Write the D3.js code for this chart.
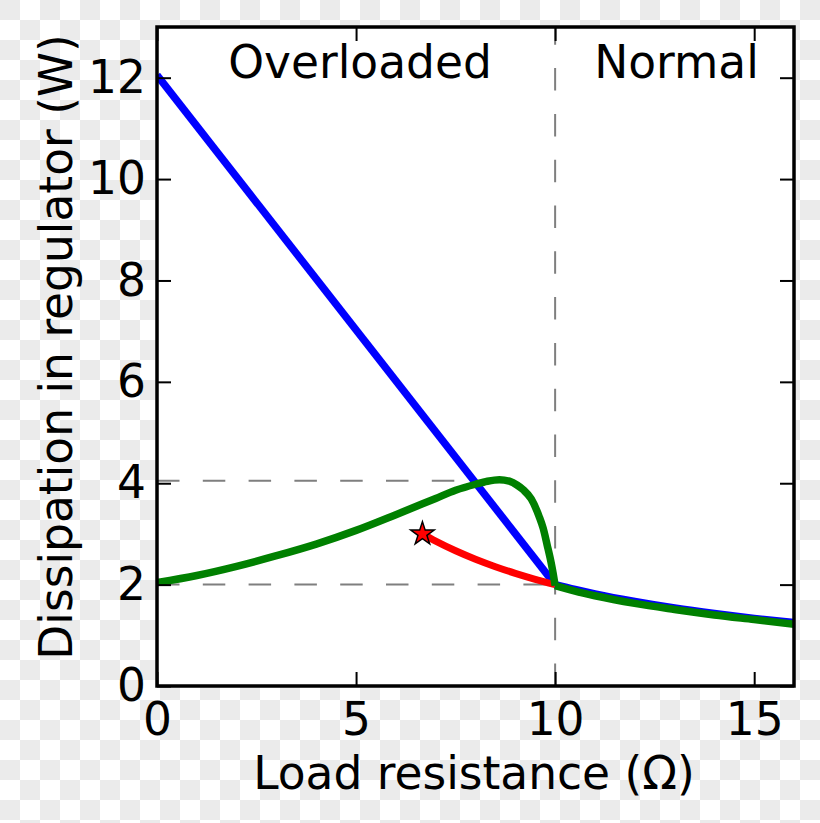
<!DOCTYPE html>
<html>
<head>
<meta charset="utf-8">
<script src="https://cdn.jsdelivr.net/npm/d3@7"></script>
<style>
  html, body { margin: 0; padding: 0; background: #fff; }
  svg { display: block; }
  text { font-family: "DejaVu Sans", sans-serif; fill: #000; }
</style>
</head>
<body>
<svg id="chart" width="820" height="823"></svg>
<script>
// ---- data ----
const xTicks = [0, 5, 10, 15];
const yTicks = [0, 2, 4, 6, 8, 10, 12];

// blue: dissipation without protection
const blueR = [0, 10, 10.5, 11, 12, 13, 14, 15, 16];
const blueP = [12.05, 2.0, 1.905, 1.818, 1.667, 1.538, 1.429, 1.333, 1.25];

// green: foldback-limited dissipation
const greenR = [0, 1, 2, 3, 4, 5, 6, 7, 7.5, 8, 8.3, 8.6, 8.85, 9.05, 9.2, 9.4, 9.6, 9.7, 9.8, 9.9, 9.95, 10,
                10.5, 11, 12, 13, 14, 15, 16];
const greenP = [2.04, 2.18, 2.36, 2.57, 2.80, 3.07, 3.38, 3.70, 3.86, 3.98, 4.04, 4.07, 4.04, 3.96, 3.87, 3.69, 3.34, 3.11, 2.78, 2.43, 2.22, 1.98,
                1.87, 1.78, 1.63, 1.51, 1.40, 1.31, 1.22];

// red: stable branch ending at the star
const redR = [6.667, 7, 7.5, 8, 8.5, 9, 9.5, 10];
const redP = [3.0, 2.857, 2.667, 2.5, 2.353, 2.222, 2.105, 2.0];
const starR = [6.667];
const starP = [3.0];

// reference dashed lines
const peakLevel = 4.05;
const baseLevel = 2.0;
const boundaryR = 10;

const regionLabels = ["Overloaded", "Normal"];
const xLabel = "Load resistance (\u03A9)";
const yLabel = "Dissipation in regulator (W)";

// ---- layout ----
const svg = d3.select("#chart");
const W = 820, H = 823;
const L = 157, R = 794, T = 27, B = 686;
const FS = 45.5;

const x = d3.scaleLinear().domain([0, 16]).range([L, R]);
const y = d3.scaleLinear().domain([0, 13]).range([B, T]);

// checkerboard background (transparent-image look)
const defs = svg.append("defs");
const pat = defs.append("pattern").attr("id", "chk")
  .attr("width", 40).attr("height", 40).attr("patternUnits", "userSpaceOnUse");
pat.append("rect").attr("width", 40).attr("height", 40).attr("fill", "#ffffff");
pat.append("rect").attr("x", 0).attr("y", 0).attr("width", 20).attr("height", 20).attr("fill", "#ebebeb");
pat.append("rect").attr("x", 20).attr("y", 20).attr("width", 20).attr("height", 20).attr("fill", "#ebebeb");
svg.append("rect").attr("width", W).attr("height", H).attr("fill", "url(#chk)");

// plot area
svg.append("rect").attr("x", L).attr("y", T).attr("width", R - L).attr("height", B - T).attr("fill", "#fff");

defs.append("clipPath").attr("id", "clip")
  .append("rect").attr("x", L).attr("y", T).attr("width", R - L).attr("height", B - T);

const plot = svg.append("g").attr("clip-path", "url(#clip)");

// dashed guides
const dashStyle = (sel) => sel.attr("stroke", "#7f7f7f").attr("stroke-width", 2)
  .attr("stroke-dasharray", "22.5,23.3").attr("fill", "none");
dashStyle(plot.append("line").attr("x1", x(0)).attr("x2", x(8.6)).attr("y1", y(peakLevel)).attr("y2", y(peakLevel)));
dashStyle(plot.append("line").attr("x1", x(0)).attr("x2", x(boundaryR)).attr("y1", y(baseLevel)).attr("y2", y(baseLevel)));
dashStyle(plot.append("line").attr("x1", x(boundaryR)).attr("x2", x(boundaryR)).attr("y1", y(0)).attr("y2", y(13)));

const zip = (a, b) => a.map((v, i) => [v, b[i]]);
const lineLin = d3.line().x(d => x(d[0])).y(d => y(d[1]));
const lineSmooth = d3.line().x(d => x(d[0])).y(d => y(d[1])).curve(d3.curveMonotoneX);

plot.append("path").datum(zip(blueR.slice(0, 2), blueP.slice(0, 2)))
  .attr("d", lineLin).attr("fill", "none").attr("stroke", "#0000ff").attr("stroke-width", 7.5)
  .attr("stroke-linejoin", "round");
plot.append("path").datum(zip(blueR.slice(1), blueP.slice(1)))
  .attr("d", lineSmooth).attr("fill", "none").attr("stroke", "#0000ff").attr("stroke-width", 7.5)
  .attr("stroke-linejoin", "round");

plot.append("path").datum(zip(redR, redP))
  .attr("d", lineSmooth).attr("fill", "none").attr("stroke", "#ff0000").attr("stroke-width", 7)
  .attr("stroke-linecap", "butt");

plot.append("path").datum(zip(greenR.slice(0, 22), greenP.slice(0, 22)))
  .attr("d", lineSmooth).attr("fill", "none").attr("stroke", "#008000").attr("stroke-width", 7.5)
  .attr("stroke-linejoin", "round");
plot.append("path").datum(zip(greenR.slice(21), greenP.slice(21)))
  .attr("d", lineSmooth).attr("fill", "none").attr("stroke", "#008000").attr("stroke-width", 7.5)
  .attr("stroke-linejoin", "round");

// star marker
plot.selectAll("path.star").data(zip(starR, starP)).enter().append("path")
  .attr("class", "star")
  .attr("d", d3.symbol().type(d3.symbolStar).size(170))
  .attr("transform", d => `translate(${x(d[0])},${y(d[1])})`)
  .attr("fill", "#ff0000").attr("stroke", "#000").attr("stroke-width", 1.5);

// region labels
svg.append("text").attr("x", x(5.1)).attr("y", y(12)).attr("text-anchor", "middle")
  .attr("font-size", FS).text(regionLabels[0]);
svg.append("text").attr("x", x(13.05)).attr("y", y(12)).attr("text-anchor", "middle")
  .attr("font-size", FS).text(regionLabels[1]);

// axes (ticks inward)
const styleAxis = (g) => {
  g.select(".domain").remove();
  g.selectAll(".tick line").attr("stroke", "#000").attr("stroke-width", 2);
  g.selectAll(".tick text").attr("font-size", FS).attr("font-family", "DejaVu Sans").attr("fill", "#000");
};
svg.append("g").attr("transform", `translate(0,${B})`)
  .call(d3.axisBottom(x).tickValues(xTicks).tickSize(-14).tickPadding(17).tickFormat(d3.format("d")))
  .call(styleAxis);
svg.append("g").attr("transform", `translate(0,${T})`)
  .call(d3.axisTop(x).tickValues(xTicks).tickSize(-14).tickFormat(""))
  .call(styleAxis);
svg.append("g").attr("transform", `translate(${L},0)`)
  .call(d3.axisLeft(y).tickValues(yTicks).tickSize(-14).tickPadding(11).tickFormat(d3.format("d")))
  .call(styleAxis);
svg.append("g").attr("transform", `translate(${R},0)`)
  .call(d3.axisRight(y).tickValues(yTicks).tickSize(-14).tickFormat(""))
  .call(styleAxis);

// spines
svg.append("rect").attr("x", L).attr("y", T).attr("width", R - L).attr("height", B - T)
  .attr("fill", "none").attr("stroke", "#000").attr("stroke-width", 3.5);

// axis labels
svg.append("text").attr("x", 474).attr("y", 789).attr("text-anchor", "middle")
  .attr("font-size", FS).text(xLabel);
svg.append("text").attr("transform", "translate(72,347) rotate(-90)").attr("text-anchor", "middle")
  .attr("font-size", FS).text(yLabel);
</script>
</body>
</html>
